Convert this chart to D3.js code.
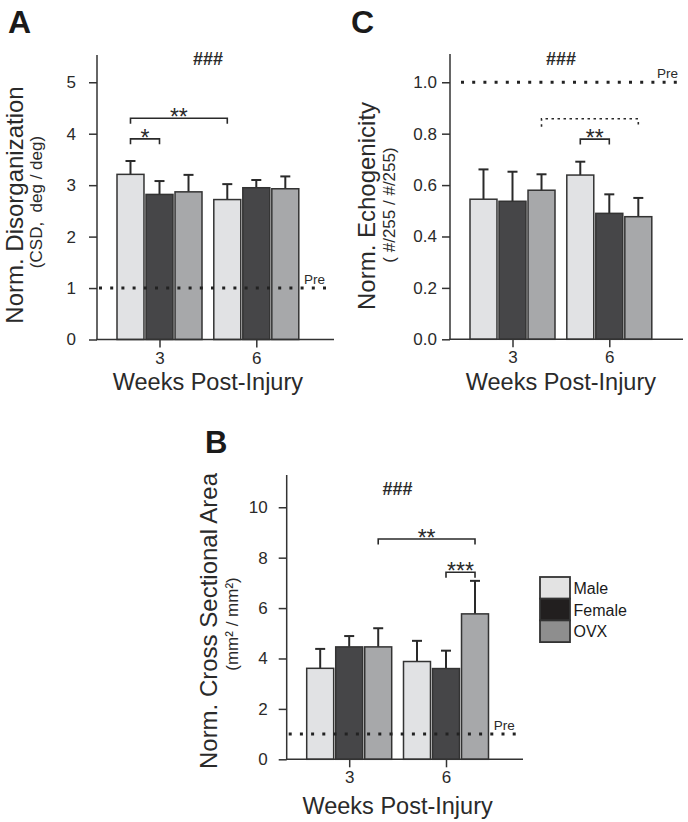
<!DOCTYPE html>
<html><head><meta charset="utf-8">
<script src="https://cdn.jsdelivr.net/npm/d3@7"></script>
<style>
body{margin:0;background:#fff}
svg{display:block;font-family:"Liberation Sans",Arial,Helvetica,sans-serif}
</style></head><body>
<svg id="c" width="688" height="822"></svg>
<script>
// ---------- data ----------
const weeks = ["3", "6"];
const groups = ["Male", "Female", "OVX"];
const barColors = ["#e1e2e4", "#464648", "#a7a8aa"];
const legendColors = ["#e3e3e3", "#221f1f", "#8e8e8e"];

// order: week 3 (Male, Female, OVX), week 6 (Male, Female, OVX)
const disorgMean = [3.21, 2.82, 2.87, 2.72, 2.95, 2.93];
const disorgErr  = [0.26, 0.26, 0.33, 0.30, 0.15, 0.24];
const disorgTicks = [0, 1, 2, 3, 4, 5];

const echoMean = [0.545, 0.537, 0.580, 0.639, 0.490, 0.477];
const echoErr  = [0.116, 0.115, 0.062, 0.052, 0.074, 0.073];
const echoTicks = [0, 0.2, 0.4, 0.6, 0.8, 1.0];

const csaMean = [3.61, 4.46, 4.46, 3.88, 3.60, 5.77];
const csaErr  = [0.77, 0.43, 0.74, 0.82, 0.71, 1.31];
const csaTicks = [0, 2, 4, 6, 8, 10];

const preValue = 1;

// brackets: [week, group] -> [week, group], height value, label, dashed
const disorgBrackets = [
  {from: ["3", "Male"], to: ["3", "Female"], y: 3.9, label: "*", dashed: false},
  {from: ["3", "Male"], to: ["6", "Male"], y: 4.3, label: "**", dashed: false}
];
const echoBrackets = [
  {from: ["3", "OVX"], to: ["6", "OVX"], y: 0.858, label: "", dashed: true},
  {from: ["6", "Male"], to: ["6", "Female"], y: 0.779, label: "**", dashed: false}
];
const csaBrackets = [
  {from: ["3", "OVX"], to: ["6", "OVX"], y: 8.74, label: "**", dashed: false},
  {from: ["6", "Female"], to: ["6", "OVX"], y: 7.42, label: "***", dashed: false}
];

// ---------- drawing ----------
const svg = d3.select("#c");
const ink = "#2a2a2a";
const axisColor = "#333";

function panel(cfg) {
  const g = svg.append("g");
  const y = d3.scaleLinear().domain([0, cfg.yMax]).range([cfg.bottom, cfg.top]);
  const x = d3.scalePoint().domain(weeks).range([cfg.axisX + 62.5, cfg.axisX + 159.3]);
  const inner = d3.scaleBand().domain(groups).range([-42.5, 42.5]).paddingInner(0.07);
  const cx = (w, s) => x(w) + inner(s) + inner.bandwidth() / 2;

  const rows = [];
  weeks.forEach((w, wi) => groups.forEach((s, si) => {
    rows.push({w, s, si, m: cfg.mean[wi * 3 + si], e: cfg.err[wi * 3 + si]});
  }));

  // error bars (drawn behind bars)
  const eb = g.append("g").attr("stroke", ink).attr("stroke-width", 2);
  eb.selectAll("line.v").data(rows).join("line").attr("class", "v")
    .attr("x1", d => cx(d.w, d.s)).attr("x2", d => cx(d.w, d.s))
    .attr("y1", d => y(d.m)).attr("y2", d => y(d.m + d.e));
  eb.selectAll("line.c").data(rows).join("line").attr("class", "c")
    .attr("x1", d => cx(d.w, d.s) - 5).attr("x2", d => cx(d.w, d.s) + 5)
    .attr("y1", d => y(d.m + d.e)).attr("y2", d => y(d.m + d.e));

  // bars
  g.append("g").selectAll("rect").data(rows).join("rect")
    .attr("x", d => x(d.w) + inner(d.s))
    .attr("width", inner.bandwidth())
    .attr("y", d => y(d.m))
    .attr("height", d => y(0) - y(d.m))
    .attr("fill", d => barColors[d.si])
    .attr("stroke", "#333").attr("stroke-width", 1.5);

  // pre line
  g.append("line")
    .attr("x1", cfg.axisX + cfg.preStart).attr("x2", cfg.axisX + 232)
    .attr("y1", y(preValue)).attr("y2", y(preValue))
    .attr("stroke", "#222").attr("stroke-width", 3)
    .attr("stroke-dasharray", "3,8.2");
  g.append("text").attr("x", cfg.axisX + 207).attr("y", y(preValue) - 4)
    .attr("font-size", 13.5).attr("fill", ink).text("Pre");

  // y axis
  const ya = g.append("g").attr("transform", `translate(${cfg.axisX},0)`)
    .call(d3.axisLeft(y).tickValues(cfg.ticks).tickFormat(cfg.fmt)
      .tickSize(8).tickPadding(cfg.tickPad).tickSizeOuter(0));
  ya.select(".domain").remove();
  ya.append("line").attr("y1", cfg.top).attr("y2", cfg.bottom)
    .attr("stroke", axisColor).attr("stroke-width", 1.5);
  ya.selectAll(".tick line").attr("stroke", axisColor).attr("stroke-width", 1.5);
  ya.selectAll(".tick text").attr("font-size", 17).attr("fill", ink)
    .attr("font-family", "Liberation Sans, Arial, sans-serif");

  // x axis
  const xa = g.append("g").attr("transform", `translate(0,${cfg.bottom})`)
    .call(d3.axisBottom(x).tickSize(8).tickPadding(4).tickSizeOuter(0));
  xa.select(".domain").remove();
  xa.append("line").attr("x1", cfg.axisX - 0.75).attr("x2", cfg.axisX + cfg.width)
    .attr("stroke", axisColor).attr("stroke-width", 1.5);
  xa.selectAll(".tick line").attr("stroke", axisColor).attr("stroke-width", 1.5);
  xa.selectAll(".tick text").attr("font-size", 17).attr("fill", ink)
    .attr("font-family", "Liberation Sans, Arial, sans-serif");

  // x title
  g.append("text").attr("x", (x("3") + x("6")) / 2).attr("y", cfg.bottom + cfg.xTitleDy)
    .attr("text-anchor", "middle").attr("font-size", 23.5).attr("fill", ink)
    .text("Weeks Post-Injury");

  // y titles
  g.append("text")
    .attr("transform", `translate(${cfg.titleX},${cfg.titleCY}) rotate(-90)`)
    .attr("text-anchor", "middle").attr("font-size", 24).attr("fill", ink)
    .text(cfg.title);
  g.append("text")
    .attr("transform", `translate(${cfg.subX},${cfg.subCY}) rotate(-90)`)
    .attr("text-anchor", "middle").attr("font-size", 17).attr("fill", ink)
    .style("white-space", "pre")
    .text(cfg.sub);

  // ### marker
  g.append("text").attr("x", (x("3") + x("6")) / 2).attr("y", cfg.hashY)
    .attr("text-anchor", "middle").attr("font-size", 18).attr("font-weight", "bold")
    .attr("fill", ink).text("###");

  // brackets
  cfg.brackets.forEach(b => {
    const x1 = cx(b.from[0], b.from[1]), x2 = cx(b.to[0], b.to[1]), yy = y(b.y);
    const drop = b.dashed ? 8 : 5.5;
    g.append("path")
      .attr("d", `M${x1},${yy + drop}V${yy}H${x2}V${yy + drop}`)
      .attr("fill", "none").attr("stroke", ink)
      .attr("stroke-width", 1.6)
      .attr("stroke-dasharray", b.dashed ? "2.5,3.5" : null);
    if (b.label) {
      g.append("text").attr("x", (x1 + x2) / 2).attr("y", yy + 7)
        .attr("text-anchor", "middle").attr("font-size", 23).attr("fill", ink)
        .text(b.label);
    }
  });

  // panel letter
  svg.append("text").attr("x", cfg.letterX).attr("y", cfg.letterY)
    .attr("font-size", cfg.letterSize).attr("font-weight", "bold").attr("fill", "#1a1a1a")
    .text(cfg.letter);
}

panel({
  letter: "A", letterX: 8, letterY: 33, letterSize: 32,
  axisX: 97, top: 55, bottom: 339.5, width: 237, yMax: 5.53,
  mean: disorgMean, err: disorgErr, ticks: disorgTicks, fmt: d3.format("d"), tickPad: 13,
  preStart: 2, xTitleDy: 50.5,
  title: "Norm. Disorganization", titleX: 23, titleCY: 205,
  sub: "(CSD,\u00a0\u00a0deg / deg)", subX: 42, subCY: 202,
  hashY: 65, brackets: disorgBrackets
});

panel({
  letter: "C", letterX: 351, letterY: 33, letterSize: 32,
  axisX: 450, top: 54, bottom: 339.3, width: 233, yMax: 1.11,
  mean: echoMean, err: echoErr, ticks: echoTicks, fmt: d3.format(".1f"), tickPad: 5,
  preStart: 11, xTitleDy: 51,
  title: "Norm. Echogenicity", titleX: 375, titleCY: 206,
  sub: "( #/255 / #/255)", subX: 395, subCY: 205,
  hashY: 65, brackets: echoBrackets
});

panel({
  letter: "B", letterX: 205, letterY: 453, letterSize: 31,
  axisX: 286.7, top: 475, bottom: 759.3, width: 236.3, yMax: 11.28,
  mean: csaMean, err: csaErr, ticks: csaTicks, fmt: d3.format("d"), tickPad: 11,
  preStart: 2, xTitleDy: 55,
  title: "Norm. Cross Sectional Area", titleX: 217, titleCY: 621,
  sub: "(mm\u00b2 / mm\u00b2)", subX: 238, subCY: 624,
  hashY: 495, brackets: csaBrackets
});

// legend
const leg = svg.append("g").attr("transform", "translate(540,577)");
leg.selectAll("rect").data(groups).join("rect")
  .attr("x", 0).attr("y", (d, i) => i * 21.7).attr("width", 30).attr("height", 21.7)
  .attr("fill", (d, i) => legendColors[i]).attr("stroke", "#333").attr("stroke-width", 1.8);
leg.selectAll("text").data(groups).join("text")
  .attr("x", 33.5).attr("y", (d, i) => 17.3 + i * 21.3)
  .attr("font-size", 16).attr("fill", "#1a1a1a").text(d => d);
</script>
</body></html>
